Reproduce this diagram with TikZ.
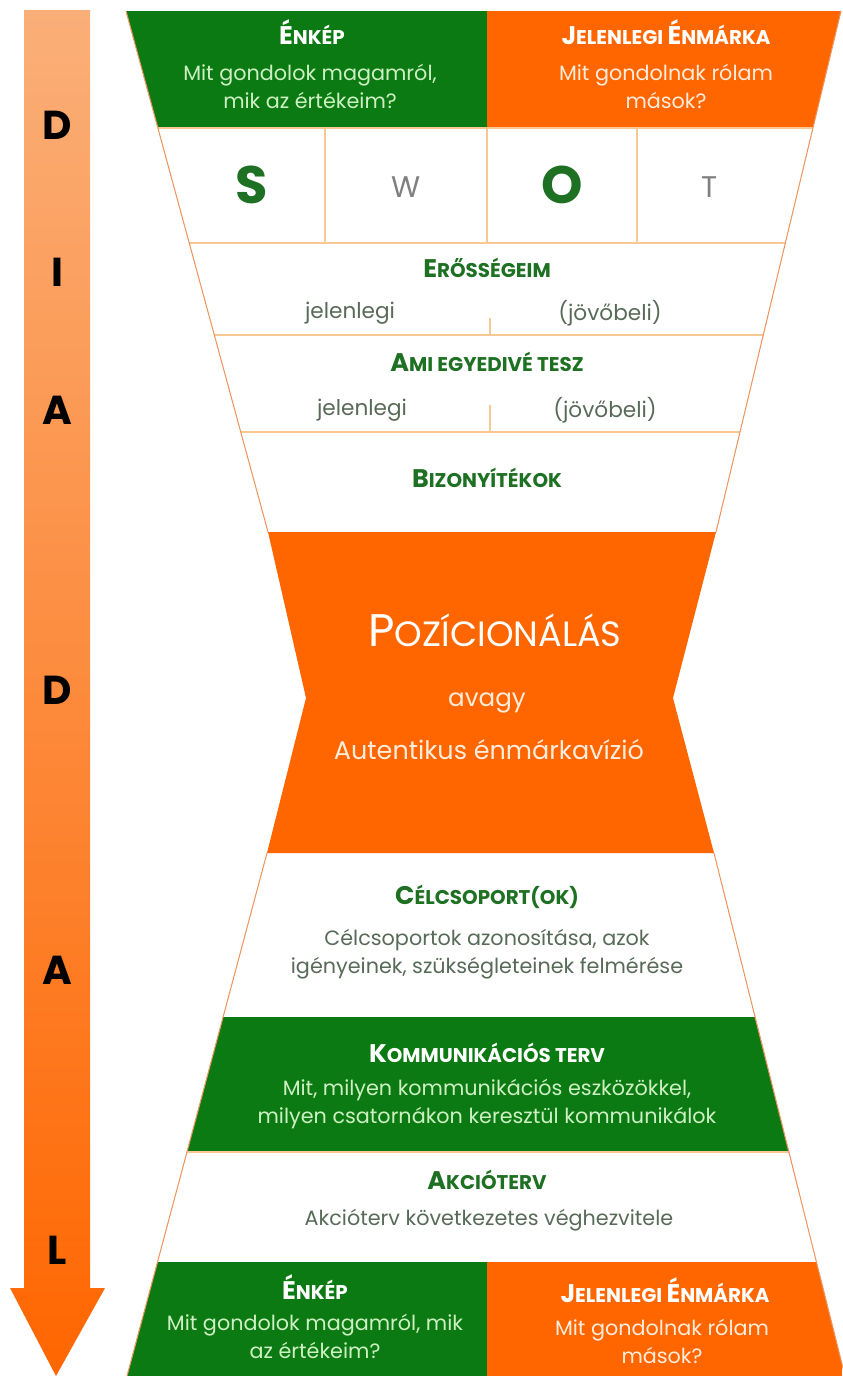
\documentclass[tikz,border=0pt]{standalone}
\usepackage{fontspec}
\setmainfont{Poppins}
\usetikzlibrary{calc}

\definecolor{hgorange}{RGB}{255,102,0}
\definecolor{hggreen}{RGB}{12,122,18}
\definecolor{hgtitle}{RGB}{30,112,34}
\definecolor{hgbody}{RGB}{88,106,88}
\definecolor{hglightgreen}{RGB}{205,240,195}
\definecolor{hglightorange}{RGB}{255,236,218}
\definecolor{hgedge}{RGB}{238,150,95}
\definecolor{hgsep}{RGB}{247,200,145}
\definecolor{hgarrowtop}{RGB}{250,175,120}

% small caps by hand: first letter larger
\newcommand\smc[2]{{\fontsize{14.5}{16}\selectfont #1}{\fontsize{11.3}{16}\selectfont #2}}

\begin{document}
\begin{tikzpicture}[x=0.02cm,y=-0.02cm,
    title/.style={font=\bfseries,text=hgtitle,inner sep=0pt},
    body/.style={font=\fontsize{11.8}{16}\selectfont,text=hgbody,align=center,inner sep=0pt},
    sepline/.style={hgsep,line width=0.6pt},
    edgeline/.style={hgedge,line width=0.6pt},
    arrowletter/.style={font=\fontsize{23}{24}\selectfont\bfseries,text=black,inner sep=0pt}]

  \path[use as bounding box] (0,0) rectangle (842,1376);

  % the D-I-A-D-A-L arrow
  \shade[top color=hgarrowtop,bottom color=hgorange]
    (24,10) -- (90,10) -- (90,1288) -- (105,1288) -- (56,1376)
    -- (10,1288) -- (24,1288) -- cycle;
  \foreach \l/\y [count=\i] in {D/125,I/272,A/410,D/690,A/970,L/1250}
    \node[arrowletter] (let\i) at (57,\y) {\l};

  % hourglass corners
  \coordinate (ua) at (126,11);
  \coordinate (ub) at (841,11);
  \coordinate (uc) at (716,532);
  \coordinate (ud) at (268,532);
  \coordinate (mw) at (306,698);
  \coordinate (me) at (673,698);
  \coordinate (la) at (267,853);
  \coordinate (lb) at (714,853);
  \coordinate (lc) at (845,1376);
  \coordinate (ld) at (127,1376);

  % upper half
  \begin{scope}
    \clip (ua) -- (ub) -- (uc) -- (ud) -- cycle;
    \fill[hggreen] (0,11) rectangle (487,128);
    \fill[hgorange] (487,11) rectangle (842,128);
    \foreach \y in {128,243,335,432}
      \draw[sepline] (0,\y) -- (842,\y);
    \foreach \x in {325,487,637}
      \draw[sepline] (\x,128) -- (\x,243);
    \draw[sepline] (490,318) -- (490,335);
    \draw[sepline] (490,405) -- (490,432);
  \end{scope}
  \draw[edgeline] (ua) -- (ud);
  \draw[edgeline] (ub) -- (uc);

  % positioning in the waist
  \fill[hgorange] (ud) -- (uc) -- (me) -- (lb) -- (la) -- (mw) -- cycle;

  % lower half
  \begin{scope}
    \clip (la) -- (lb) -- (lc) -- (ld) -- cycle;
    \fill[hggreen] (0,1017) rectangle (842,1152);
    \fill[hggreen] (0,1262) rectangle (487,1376);
    \fill[hgorange] (487,1262) rectangle (842,1376);
    \draw[sepline] (0,1152) -- (842,1152);
  \end{scope}
  \draw[edgeline] (la) -- (ld);
  \draw[edgeline] (lb) -- (lc);

  % top row
  \node[title,text=white] (enkep) at (312,32) {\smc{É}{NKÉP}};
  \node[body,text=hglightgreen] (enkeptxt) at (310,86)
    {Mit gondolok magamról,\\mik az értékeim?};
  \node[title,text=white] (marka) at (666,32) {\smc{J}{ELENLEGI }\smc{É}{NMÁRKA}};
  \node[body,text=hglightorange] (markatxt) at (666,86)
    {Mit gondolnak rólam\\mások?};

  % SWOT
  \node[font=\fontsize{30}{30}\selectfont\bfseries,text=hgtitle,inner sep=0pt] (s) at (252,185) {S};
  \node[font=\fontsize{17}{17}\selectfont,text=gray,inner sep=0pt] (w) at (406,187) {W};
  \node[font=\fontsize{30}{30}\selectfont\bfseries,text=hgtitle,inner sep=0pt] (o) at (562,185) {O};
  \node[font=\fontsize{17}{17}\selectfont,text=gray,inner sep=0pt] (t) at (710,187) {T};

  % strengths
  \node[title] (eross) at (487,268) {\smc{E}{RŐSSÉGEIM}};
  \node[body,font=\fontsize{12.3}{16}\selectfont] (eross1) at (350,313) {jelenlegi};
  \node[body,font=\fontsize{12.3}{16}\selectfont] (eross2) at (610,313) {(jövőbeli)};

  \node[title] (egyedi) at (487,362) {\smc{A}{MI EGYEDIVÉ TESZ}};
  \node[body,font=\fontsize{12.3}{16}\selectfont] (egyedi1) at (362,410) {jelenlegi};
  \node[body,font=\fontsize{12.3}{16}\selectfont] (egyedi2) at (605,410) {(jövőbeli)};

  \node[title] (bizony) at (487,478) {\smc{B}{IZONYÍTÉKOK}};

  % waist text
  \node[text=white,inner sep=0pt] (pozic) at (495,630)
    {{\fontsize{26}{28}\selectfont P}{\fontsize{20}{28}\selectfont OZÍCIONÁLÁS}};
  \node[text=hglightorange,font=\fontsize{14}{16}\selectfont,inner sep=0pt] (avagy) at (487,703) {avagy};
  \node[text=hglightorange,font=\fontsize{14.5}{16}\selectfont,inner sep=0pt] (vizio) at (489,750)
    {Autentikus énmárkavízió};

  % lower half text
  \node[title] (celcs) at (487,897) {\smc{C}{ÉLCSOPORT(OK)}};
  \node[body] (celcstxt) at (487,954)
    {Célcsoportok azonosítása, azok\\igényeinek, szükségleteinek felmérése};

  \node[title,text=white] (komm) at (487,1053) {\smc{K}{OMMUNIKÁCIÓS TERV}};
  \node[body,text=hglightgreen] (kommtxt) at (487,1104)
    {Mit, milyen kommunikációs eszközökkel,\\milyen csatornákon keresztül kommunikálok};

  \node[title] (akcio) at (487,1180) {\smc{A}{KCIÓTERV}};
  \node[body] (akciotxt) at (489,1220) {Akcióterv következetes véghezvitele};

  \node[title,text=white] (enkep2) at (315,1287) {\smc{É}{NKÉP}};
  \node[body,text=hglightgreen] (enkep2txt) at (315,1336)
    {Mit gondolok magamról, mik\\az értékeim?};
  \node[title,text=white] (marka2) at (665,1290) {\smc{J}{ELENLEGI }\smc{É}{NMÁRKA}};
  \node[body,text=hglightorange] (marka2txt) at (662,1341)
    {Mit gondolnak rólam\\mások?};
\end{tikzpicture}
\end{document}
